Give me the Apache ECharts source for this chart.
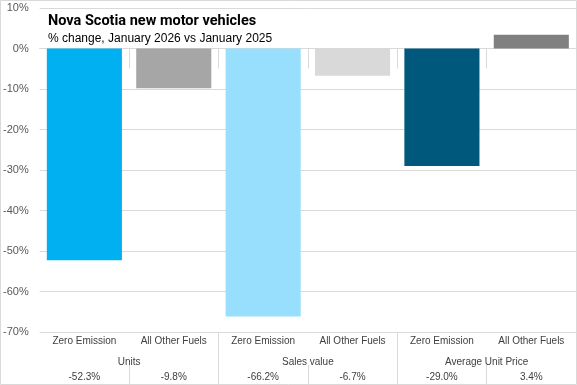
<!DOCTYPE html>
<html><head><meta charset="utf-8">
<script src="https://cdn.jsdelivr.net/npm/echarts@6/dist/echarts.min.js"></script>
<style>html,body{margin:0;padding:0;background:#fff}#c{width:577px;height:385px}</style>
</head><body><div id="c"></div>
<script>
const categories = ['Zero Emission','All Other Fuels','Zero Emission','All Other Fuels','Zero Emission','All Other Fuels'];
const groups = ['Units','Sales value','Average Unit Price'];
const values = [-52.3, -9.8, -66.2, -6.7, -29.0, 3.4];
const valueLabels = ['-52.3%','-9.8%','-66.2%','-6.7%','-29.0%','3.4%'];
const barColors = ['#00B0F0','#A6A6A6','#97DFFD','#D9D9D9','#00587C','#808080'];
const yMin = -70, yMax = 10, yStep = 10;

const chart = echarts.init(document.getElementById('c'), null, {renderer:'canvas'});
const font = 'Liberation Sans, Arial, sans-serif';
const txt = '#404040';
const line = '#D9D9D9';
const skipFirst = (i) => i !== 0;
chart.setOption({
  animation:false,
  backgroundColor:'#fff',
  title:{
    text:'Nova Scotia new motor vehicles',
    subtext:'% change, January 2026 vs January 2025',
    left:43, top:9, itemGap:4,
    textStyle:{fontFamily:'Roboto, sans-serif', fontWeight:'bold', fontSize:14.5, color:'#000'},
    subtextStyle:{fontFamily:font, fontSize:12, color:'#000'}
  },
  grid:{left:38, right:1, top:8, bottom:53, containLabel:false},
  yAxis:{
    type:'value', min:yMin, max:yMax, interval:yStep,
    axisLine:{show:false}, axisTick:{show:false},
    splitLine:{lineStyle:{color:line, width:1}},
    axisLabel:{formatter:v=>v+'%', color:'#595959', fontFamily:font, fontSize:11, margin:11}
  },
  xAxis:[
    {type:'category', data:categories, position:'bottom', offset:0,
     axisLine:{show:true, lineStyle:{color:line}},
     axisTick:{show:true, length:20, lineStyle:{color:line}, interval:skipFirst},
     axisLabel:{color:txt, fontFamily:font, fontSize:10, margin:4, interval:0}},
    {type:'category', data:groups, position:'bottom', offset:0,
     axisLine:{show:false},
     axisTick:{show:true, length:52, lineStyle:{color:line}, interval:skipFirst},
     axisLabel:{color:txt, fontFamily:font, fontSize:10, margin:25, interval:0}},
    {type:'category', data:valueLabels, position:'bottom', offset:33,
     axisLine:{show:false},
     axisTick:{show:true, length:19, lineStyle:{color:line}, interval:skipFirst},
     axisLabel:{color:txt, fontFamily:font, fontSize:10, margin:7, interval:0}}
  ],
  series:[{
    type:'bar', xAxisIndex:0, barCategoryGap:'16%',
    data: values.map((v,i)=>({value:v, itemStyle:{color:barColors[i]}}))
  }],
  graphic:[{type:'rect', shape:{x:0.5,y:0.5,width:576,height:384}, style:{fill:'none', stroke:line, lineWidth:1}, z:100}]
});
</script></body></html>
